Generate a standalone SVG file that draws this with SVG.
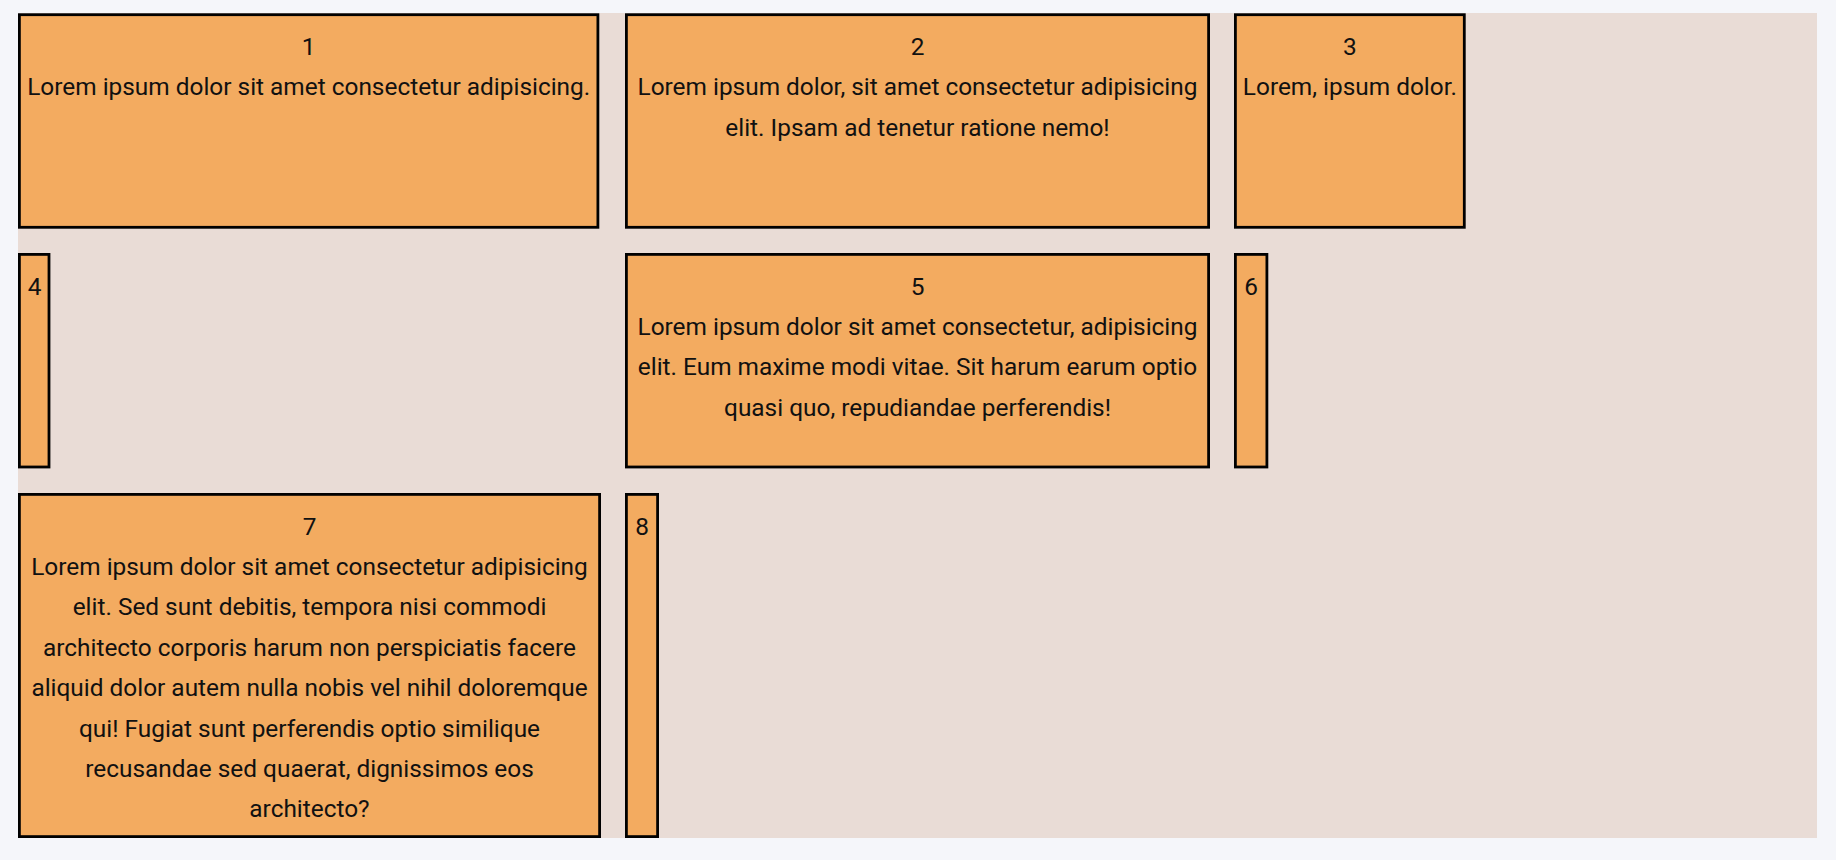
<svg xmlns="http://www.w3.org/2000/svg" width="1836" height="860" viewBox="0 0 1836 860">
  <style>
    .box { fill: #f3ab60; stroke: #000; stroke-width: 2.8; }
    .t { font-family: Roboto, "Liberation Sans", sans-serif; font-size: 24.4px; fill: #111; text-anchor: middle; }
  </style>
  <rect x="0" y="0" width="1836" height="860" fill="#f5f6fa"/>
  <rect id="container" x="18" y="13" width="1799" height="825" fill="#e9dcd6"/>
  <g id="connectors"/>
  <g id="node1">
    <rect class="box" x="19.4" y="14.7" width="578.5" height="212.6"/>
    <text class="t" x="308.7" y="54.8">1</text>
    <text class="t" x="308.7" y="95.2">Lorem ipsum dolor sit amet consectetur adipisicing.</text>
  </g>
  <g id="node2">
    <rect class="box" x="626.4" y="14.7" width="582.2" height="212.6"/>
    <text class="t" x="917.5" y="54.8">2</text>
    <text class="t" x="917.5" y="95.2">Lorem ipsum dolor, sit amet consectetur adipisicing</text>
    <text class="t" x="917.5" y="135.6">elit. Ipsam ad tenetur ratione nemo!</text>
  </g>
  <g id="node3">
    <rect class="box" x="1235.4" y="14.7" width="228.9" height="212.6"/>
    <text class="t" x="1349.9" y="54.8">3</text>
    <text class="t" x="1349.9" y="95.2">Lorem, ipsum dolor.</text>
  </g>
  <g id="node4">
    <rect class="box" x="19.4" y="254.4" width="29.6" height="212.6"/>
    <text class="t" x="34.5" y="294.5">4</text>
  </g>
  <g id="node5">
    <rect class="box" x="626.4" y="254.4" width="582.2" height="212.6"/>
    <text class="t" x="917.5" y="294.5">5</text>
    <text class="t" x="917.5" y="334.9">Lorem ipsum dolor sit amet consectetur, adipisicing</text>
    <text class="t" x="917.5" y="375.3">elit. Eum maxime modi vitae. Sit harum earum optio</text>
    <text class="t" x="917.5" y="415.7">quasi quo, repudiandae perferendis!</text>
  </g>
  <g id="node6">
    <rect class="box" x="1235.4" y="254.4" width="31.5" height="212.6"/>
    <text class="t" x="1251" y="294.5">6</text>
  </g>
  <g id="node7">
    <rect class="box" x="19.4" y="494.4" width="580.2" height="342.2"/>
    <text class="t" x="309.5" y="534.5">7</text>
    <text class="t" x="309.5" y="574.9">Lorem ipsum dolor sit amet consectetur adipisicing</text>
    <text class="t" x="309.5" y="615.3">elit. Sed sunt debitis, tempora nisi commodi</text>
    <text class="t" x="309.5" y="655.7">architecto corporis harum non perspiciatis facere</text>
    <text class="t" x="309.5" y="696.1">aliquid dolor autem nulla nobis vel nihil doloremque</text>
    <text class="t" x="309.5" y="736.5">qui! Fugiat sunt perferendis optio similique</text>
    <text class="t" x="309.5" y="776.9">recusandae sed quaerat, dignissimos eos</text>
    <text class="t" x="309.5" y="817.3">architecto?</text>
  </g>
  <g id="node8">
    <rect class="box" x="626.4" y="494.4" width="31.2" height="342.2"/>
    <text class="t" x="642" y="534.5">8</text>
  </g>
</svg>
